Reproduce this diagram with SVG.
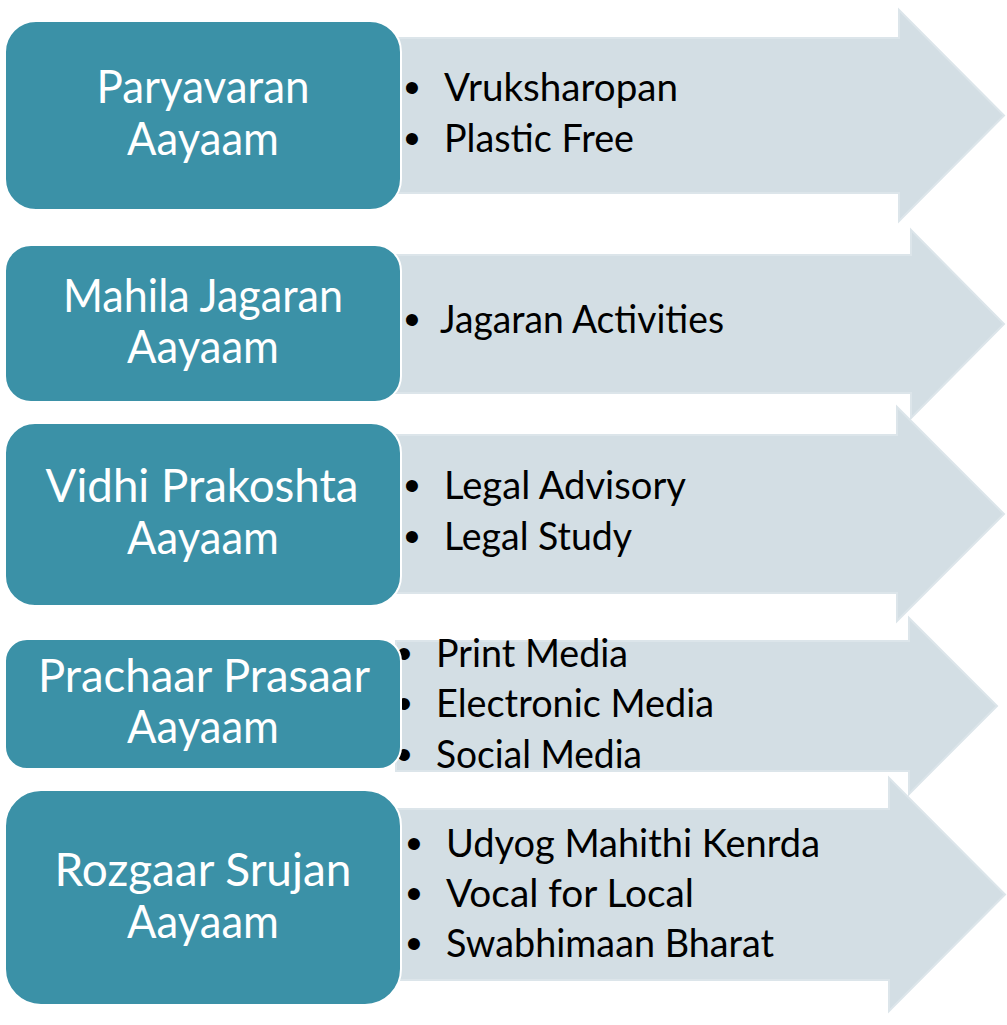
<svg xmlns="http://www.w3.org/2000/svg" width="1007" height="1025" viewBox="0 0 1007 1025">
<style>
.arrow{fill:#D3DEE4;stroke:#DCE5EA;stroke-width:2}
.box{fill:#3B91A7;stroke:#FFFFFF;stroke-width:2}
.title{font-family:"Lato","Open Sans",sans-serif;font-size:46px;fill:#FFFFFF;text-anchor:middle}
.item{font-family:"Lato","Open Sans",sans-serif;font-size:38px;fill:#000000}
.dot{font-family:"Liberation Sans",sans-serif;font-size:44px;fill:#000000;text-anchor:middle}
</style>
<rect width="1007" height="1025" fill="#FFFFFF"/>
<g id="connectors">
  <polygon class="arrow" points="396,38 899,38 899,10 1004,115.5 899,221 899,193 396,193"/>
  <polygon class="arrow" points="396,255 911,255 911,230 1004,324 911,418 911,393 396,393"/>
  <polygon class="arrow" points="396,435 897,435 897,407 1004,514 897,621 897,593 396,593"/>
  <polygon class="arrow" points="396,641 909,641 909,618 997,706 909,794 909,771 396,771"/>
  <polygon class="arrow" points="396,809 889,809 889,778 1005,894.5 889,1011 889,980 396,980"/>
</g>
<g id="items1">
  <text class="dot" x="412" y="103">•</text>
  <text class="item" x="444" y="101" textLength="234" lengthAdjust="spacingAndGlyphs">Vruksharopan</text>
  <text class="dot" x="412" y="154">•</text>
  <text class="item" x="444" y="152" textLength="190" lengthAdjust="spacingAndGlyphs">Plastic Free</text>
</g>
<g id="items2">
  <text class="dot" x="412" y="335">•</text>
  <text class="item" x="440" y="333" textLength="284" lengthAdjust="spacingAndGlyphs">Jagaran Activities</text>
</g>
<g id="items3">
  <text class="dot" x="412" y="501">•</text>
  <text class="item" x="444" y="499" textLength="242" lengthAdjust="spacingAndGlyphs">Legal Advisory</text>
  <text class="dot" x="412" y="552">•</text>
  <text class="item" x="444" y="550" textLength="188" lengthAdjust="spacingAndGlyphs">Legal Study</text>
</g>
<g id="items4">
  <text class="dot" x="404" y="669">•</text>
  <text class="item" x="436" y="667" textLength="192" lengthAdjust="spacingAndGlyphs">Print Media</text>
  <text class="dot" x="404" y="719">•</text>
  <text class="item" x="436" y="717" textLength="278" lengthAdjust="spacingAndGlyphs">Electronic Media</text>
  <text class="dot" x="404" y="770">•</text>
  <text class="item" x="436" y="768" textLength="206" lengthAdjust="spacingAndGlyphs">Social Media</text>
</g>
<g id="items5">
  <text class="dot" x="414" y="859">•</text>
  <text class="item" x="446" y="857" textLength="374" lengthAdjust="spacingAndGlyphs">Udyog Mahithi Kenrda</text>
  <text class="dot" x="414" y="909">•</text>
  <text class="item" x="446" y="907" textLength="248" lengthAdjust="spacingAndGlyphs">Vocal for Local</text>
  <text class="dot" x="414" y="959">•</text>
  <text class="item" x="446" y="957" textLength="328" lengthAdjust="spacingAndGlyphs">Swabhimaan Bharat</text>
</g>
<g id="node1">
  <rect class="box" x="5" y="21" width="396" height="189" rx="31"/>
  <text class="title" x="203" y="103" textLength="213" lengthAdjust="spacingAndGlyphs">Paryavaran</text>
  <text class="title" x="203" y="155" textLength="152" lengthAdjust="spacingAndGlyphs">Aayaam</text>
</g>
<g id="node2">
  <rect class="box" x="5" y="245" width="396" height="157" rx="26"/>
  <text class="title" x="203" y="312" textLength="280" lengthAdjust="spacingAndGlyphs">Mahila Jagaran</text>
  <text class="title" x="203" y="363" textLength="152" lengthAdjust="spacingAndGlyphs">Aayaam</text>
</g>
<g id="node3">
  <rect class="box" x="5" y="423" width="396" height="183" rx="30"/>
  <text class="title" x="202" y="502" textLength="313" lengthAdjust="spacingAndGlyphs">Vidhi Prakoshta</text>
  <text class="title" x="203" y="554" textLength="152" lengthAdjust="spacingAndGlyphs">Aayaam</text>
</g>
<g id="node4">
  <rect class="box" x="5" y="639" width="396" height="130" rx="22"/>
  <text class="title" x="204" y="692" textLength="332" lengthAdjust="spacingAndGlyphs">Prachaar Prasaar</text>
  <text class="title" x="203" y="743" textLength="152" lengthAdjust="spacingAndGlyphs">Aayaam</text>
</g>
<g id="node5">
  <rect class="box" x="5" y="790" width="396" height="215" rx="36"/>
  <text class="title" x="203" y="886" textLength="297" lengthAdjust="spacingAndGlyphs">Rozgaar Srujan</text>
  <text class="title" x="203" y="938" textLength="152" lengthAdjust="spacingAndGlyphs">Aayaam</text>
</g>
</svg>
